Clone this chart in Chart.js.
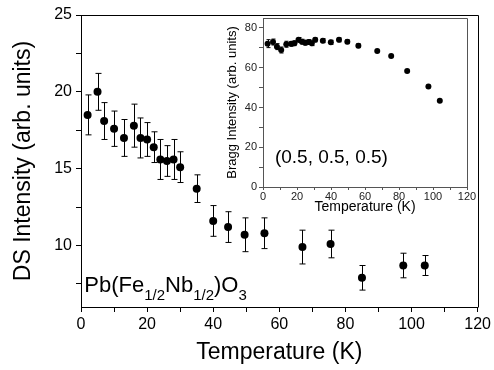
<!DOCTYPE html>
<html><head><meta charset="utf-8">
<script src="https://cdn.jsdelivr.net/npm/chart.js@4/dist/chart.umd.min.js"></script>
<style>
html,body{margin:0;padding:0;background:#fff;}
#wrap{position:relative;width:494px;height:370px;overflow:hidden;}
#main{position:absolute;left:0;top:0;}
#insetBox{position:absolute;left:215px;top:0;width:279px;height:225px;}
</style></head><body>
<div id="wrap">
<canvas id="main" width="494" height="370"></canvas>
<div id="insetBox"><canvas id="inset" width="279" height="225"></canvas></div>
</div>
<script>
// ---- main panel data: diffuse scattering intensity vs temperature ----
const dsTemperature = [2, 5, 7, 10, 13, 16, 18, 20, 22, 24, 26, 28, 30, 35, 40, 44.5, 49.5, 55.5, 67, 75.5, 85, 97.5, 104];
const dsIntensity   = [18.5, 20.0, 18.1, 17.6, 17.0, 17.8, 17.0, 16.9, 16.4, 15.6, 15.5, 15.6, 15.1, 13.7, 11.6, 11.2, 10.7, 10.8, 9.9, 10.1, 7.9, 8.7, 8.7];
const dsError       = [1.3, 1.2, 1.2, 1.15, 1.2, 1.4, 1.3, 1.1, 1.0, 1.3, 1.0, 1.3, 1.0, 0.9, 1.0, 1.0, 1.1, 1.0, 1.1, 0.9, 0.8, 0.8, 0.65];
// ---- inset data: Bragg intensity vs temperature ----
const braggTemperature = [2.7, 5.9, 8.2, 10.7, 13.7, 16.6, 18.5, 20.9, 22.9, 24.8, 26.8, 28.7, 30.7, 35.2, 39.9, 44.7, 49.6, 56.1, 67.2, 75.4, 84.8, 97.3, 104];
const braggIntensity   = [72.1, 72.9, 70.6, 68.9, 71.8, 72.0, 72.3, 74.0, 73.1, 72.6, 72.9, 72.3, 74.0, 73.6, 72.8, 74.0, 73.1, 71.1, 68.4, 65.9, 58.4, 50.5, 43.4];
const braggError       = [2.0, 1.5, 1.5, 1.5, 1.5, 1.2, 1.2, 1.2, 1.2, 1.2, 1.2, 1.2, 1.0, 1.0, 1.0, 1.0, 1.0, 1.0, 0, 0, 0, 0, 0];
// ---- tick values ----
const mainXTicks = [0, 10, 20, 30, 40, 50, 60, 70, 80, 90, 100, 110, 120];
const mainXLabels = [0, 20, 40, 60, 80, 100, 120];
const mainYTicks = [7.5, 10, 12.5, 15, 17.5, 20, 22.5, 25];
const mainYLabels = [10, 15, 20, 25];
const insetXTicks = [0, 10, 20, 30, 40, 50, 60, 70, 80, 90, 100, 110, 120];
const insetXLabels = [0, 20, 40, 60, 80, 100, 120];
const insetYTicks = [0, 10, 20, 30, 40, 50, 60, 70, 80];
const insetYLabels = [0, 20, 40, 60, 80];

const FONT = "'Liberation Sans', Arial, Helvetica, sans-serif";

const errorBars = {
  id: 'errorBars',
  afterDatasetsDraw(chart, args, opts) {
    const errs = opts.errors;
    if (!errs) return;
    const ds = chart.data.datasets[0];
    const xs = chart.scales.x, ys = chart.scales.y;
    const ctx = chart.ctx;
    ctx.save();
    ctx.strokeStyle = opts.color || '#000';
    ctx.lineWidth = opts.width || 1;
    const cap = opts.cap || 3;
    ds.data.forEach((p, i) => {
      const e = errs[i];
      if (!e) return;
      const px = Math.round(xs.getPixelForValue(p.x)) + 0.5;
      const y1 = ys.getPixelForValue(p.y + e), y2 = ys.getPixelForValue(p.y - e);
      ctx.beginPath();
      ctx.moveTo(px, y1); ctx.lineTo(px, y2);
      ctx.moveTo(px - cap, y1); ctx.lineTo(px + cap, y1);
      ctx.moveTo(px - cap, y2); ctx.lineTo(px + cap, y2);
      ctx.stroke();
    });
    ctx.restore();
  }
};

const frame = {
  id: 'frame',
  afterDraw(chart, args, opts) {
    const a = chart.chartArea, ctx = chart.ctx;
    ctx.save();
    ctx.strokeStyle = opts.color || '#000';
    ctx.lineWidth = 1;
    ctx.beginPath();
    ctx.moveTo(Math.round(a.left) + 0.5, Math.round(a.top) + 0.5);
    ctx.lineTo(Math.round(a.right) + 0.5, Math.round(a.top) + 0.5);
    ctx.lineTo(Math.round(a.right) + 0.5, Math.round(a.bottom) + 0.5);
    ctx.stroke();
    ctx.restore();
  }
};

const label = {
  id: 'label',
  afterDraw(chart, args, opts) {
    if (!opts.parts) return;
    const ctx = chart.ctx;
    let x = chart.scales.x.getPixelForValue(opts.x);
    const y = chart.scales.y.getPixelForValue(opts.y);
    ctx.save();
    ctx.fillStyle = opts.color || '#000';
    ctx.textBaseline = 'alphabetic';
    ctx.textAlign = 'left';
    opts.parts.forEach(pt => {
      const size = pt.sub ? opts.subSize : opts.size;
      ctx.font = size + 'px ' + FONT;
      ctx.fillText(pt.t, x, y + (pt.sub ? opts.subShift : 0));
      x += ctx.measureText(pt.t).width;
    });
    ctx.restore();
  }
};

function pts(xs, ys) { return xs.map((x, i) => ({ x: x, y: ys[i] })); }

new Chart(document.getElementById('main'), {
  type: 'scatter',
  data: { datasets: [{ data: pts(dsTemperature, dsIntensity), pointRadius: 4, pointBackgroundColor: '#000', pointBorderWidth: 0 }] },
  options: {
    responsive: false, animation: false, devicePixelRatio: 1,
    layout: { padding: { left: 0, right: 15, top: 15, bottom: 0 } },
    plugins: {
      legend: { display: false }, tooltip: { enabled: false },
      errorBars: { errors: dsError, color: '#000', width: 1, cap: 3 },
      frame: { color: '#000' },
      label: { x: 1, y: 7.0, size: 22, subSize: 15, subShift: 8, color: '#000',
        parts: [{ t: 'Pb(Fe' }, { t: '1/2', sub: true }, { t: 'Nb' }, { t: '1/2', sub: true }, { t: ')O' }, { t: '3', sub: true }] }
    },
    scales: {
      x: {
        type: 'linear', min: 0, max: 120,
        afterBuildTicks: s => { s.ticks = mainXTicks.map(v => ({ value: v })); },
        afterFit: s => { s.height = 63; },
        ticks: { autoSkip: false, maxRotation: 0, padding: 3, color: '#000', font: { family: FONT, size: 16 },
          callback: v => mainXLabels.includes(v) ? String(v) : '' },
        grid: { display: true, drawOnChartArea: false, drawTicks: true, tickLength: 5, color: '#000' },
        border: { display: true, color: '#000', width: 1 },
        title: { display: true, text: 'Temperature (K)', color: '#000', font: { family: FONT, size: 23 }, padding: { top: 0, bottom: 4 } }
      },
      y: {
        type: 'linear', min: 6, max: 25,
        afterBuildTicks: s => { s.ticks = mainYTicks.map(v => ({ value: v })); },
        afterFit: s => { s.width = 81; },
        ticks: { autoSkip: false, padding: 4, color: '#000', font: { family: FONT, size: 16 },
          callback: v => mainYLabels.includes(v) ? String(v) : '' },
        grid: { display: true, drawOnChartArea: false, drawTicks: true, tickLength: 5, color: '#000' },
        border: { display: true, color: '#000', width: 1 },
        title: { display: true, text: 'DS Intensity (arb. units)', color: '#000', font: { family: FONT, size: 23 }, padding: { top: 10, bottom: 0 } }
      }
    }
  },
  plugins: [errorBars, frame, label]
});

new Chart(document.getElementById('inset'), {
  type: 'scatter',
  data: { datasets: [{ data: pts(braggTemperature, braggIntensity), pointRadius: 3, pointBackgroundColor: '#000', pointBorderWidth: 0 }] },
  options: {
    responsive: false, animation: false, devicePixelRatio: 1,
    layout: { padding: { left: 0, right: 27, top: 18, bottom: 0 } },
    plugins: {
      legend: { display: false }, tooltip: { enabled: false },
      errorBars: { errors: braggError, color: '#000', width: 1, cap: 2 },
      frame: { color: '#555' },
      label: { x: 7, y: 12, size: 19, subSize: 12, subShift: 0, color: '#000',
        parts: [{ t: '(0.5, 0.5, 0.5)' }] }
    },
    scales: {
      x: {
        type: 'linear', min: 0, max: 120,
        afterBuildTicks: s => { s.ticks = insetXTicks.map(v => ({ value: v })); },
        afterFit: s => { s.height = 38; },
        ticks: { autoSkip: false, maxRotation: 0, padding: 0, color: '#222', font: { family: FONT, size: 11 },
          callback: v => insetXLabels.includes(v) ? String(v) : '' },
        grid: { display: true, drawOnChartArea: false, drawTicks: true, tickLength: 3, color: '#555' },
        border: { display: true, color: '#555', width: 1 },
        title: { display: true, text: 'Temperature (K)', color: '#000', font: { family: FONT, size: 14 }, padding: { top: 0, bottom: 9 } }
      },
      y: {
        type: 'linear', min: 0, max: 85,
        afterBuildTicks: s => { s.ticks = insetYTicks.map(v => ({ value: v })); },
        afterFit: s => { s.width = 48; },
        ticks: { autoSkip: false, padding: 2, color: '#222', font: { family: FONT, size: 11 },
          callback: v => insetYLabels.includes(v) ? String(v) : '' },
        grid: { display: true, drawOnChartArea: false, drawTicks: true, tickLength: 4, color: '#555' },
        border: { display: true, color: '#555', width: 1 },
        title: { display: true, text: 'Bragg Intensity (arb. units)', color: '#000', font: { family: FONT, size: 13 }, padding: { top: 10, bottom: 0 } }
      }
    }
  },
  plugins: [errorBars, frame, label]
});
</script>
</body></html>
